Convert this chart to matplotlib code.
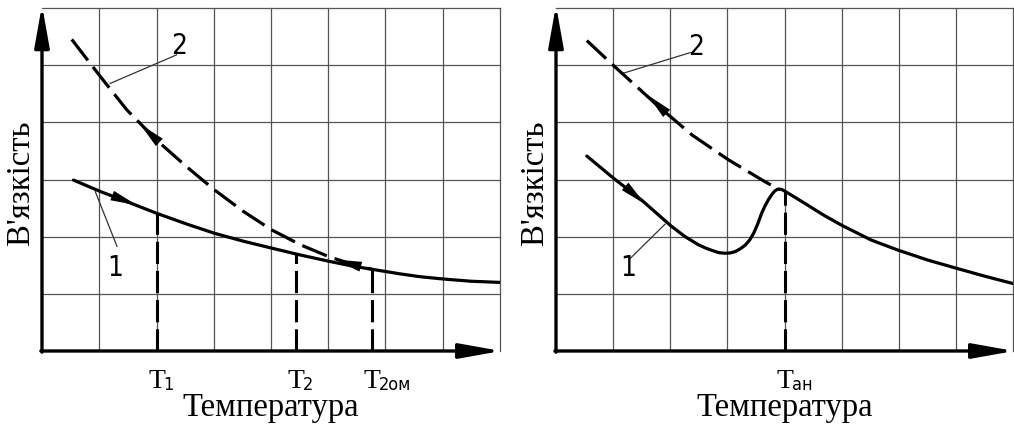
import matplotlib
matplotlib.use("Agg")
import matplotlib.pyplot as plt

plt.rcParams['lines.scale_dashes'] = False

# ---------------- data (grid-cell units) ----------------
# Left panel
L_c1_x = [0.55, 1.02, 1.54, 2.00, 2.53, 3.01, 3.52, 4.01, 4.51, 5.01, 5.40, 5.76, 6.25, 6.60, 7.00, 7.50, 8.00]
L_c1_y = [2.99, 2.79, 2.59, 2.41, 2.22, 2.06, 1.92, 1.80, 1.68, 1.57, 1.49, 1.43, 1.35, 1.30, 1.26, 1.22, 1.20]
L_c2_x = [0.52, 1.02, 1.48, 2.00, 2.53, 3.01, 3.52, 4.01, 4.51, 5.01, 5.44, 5.76]
L_c2_y = [5.45, 4.80, 4.22, 3.69, 3.22, 2.82, 2.44, 2.12, 1.86, 1.65, 1.51, 1.43]
L_marks_x = [2.00, 4.43, 5.76]
L_marks_top = [2.41, 1.69, 1.43]
L_mark_subs = ['1', '2', '2ом']

# Right panel
R_c1_x = [0.54, 1.01, 1.50, 2.01, 2.26, 2.49, 2.62, 2.73, 2.85, 2.96, 3.05, 3.14, 3.23, 3.31, 3.39,
          3.46, 3.53, 3.60, 3.66, 3.72, 3.78, 3.83, 3.88, 3.94, 4.00, 4.18, 4.36, 4.68,
          5.00, 5.52, 6.00, 6.51, 7.00, 7.50, 8.00]
R_c1_y = [3.41, 3.02, 2.64, 2.19, 2.00, 1.86, 1.80, 1.76, 1.72, 1.71, 1.715, 1.74, 1.79, 1.85, 1.94,
          2.06, 2.22, 2.41, 2.54, 2.65, 2.74, 2.80, 2.83, 2.83, 2.80, 2.69, 2.58, 2.38,
          2.20, 1.94, 1.76, 1.59, 1.45, 1.31, 1.18]
R_c2_x = [0.54, 1.01, 1.77, 2.38, 3.01, 3.66, 3.92]
R_c2_y = [5.43, 4.99, 4.30, 3.78, 3.35, 2.96, 2.82]
R_marks_x = [4.00]
R_marks_top = [2.80]
R_mark_subs = ['ан']

x_title = 'Температура'
y_title = "В'язкість"

# ---------------- figure ----------------
fig = plt.figure(figsize=(10.14, 4.29), dpi=100)
axL = fig.add_axes([42/1014, 78/429, 458/1014, 343/429])
axR = fig.add_axes([556/1014, 78/429, 457/1014, 343/429])

SERIF = 'Liberation Serif'

def base(ax):
    ax.set_xlim(0, 8)
    ax.set_ylim(0, 6)
    for s in ax.spines.values():
        s.set_visible(False)
    ax.set_xticks([])
    ax.set_yticks([])
    for i in range(1, 9):
        ax.plot([i, i], [0, 6], color='#555555', lw=0.9, clip_on=False, zorder=1)
    for j in range(1, 7):
        ax.plot([0, 8], [j, j], color='#555555', lw=0.9, clip_on=False, zorder=1)
    ax.annotate('', xy=(0, 6.05), xytext=(0, -0.02),
                arrowprops=dict(arrowstyle='-|>,head_length=1.4,head_width=0.25',
                                lw=2.4, color='black', mutation_scale=18, shrinkA=0, shrinkB=0),
                annotation_clip=False, zorder=4)
    ax.annotate('', xy=(8.02, 0), xytext=(-0.02, 0),
                arrowprops=dict(arrowstyle='-|>,head_length=1.4,head_width=0.25',
                                lw=2.4, color='black', mutation_scale=18, shrinkA=0, shrinkB=0),
                annotation_clip=False, zorder=4)
    ax.text(0.5, -0.190, x_title, transform=ax.transAxes, ha='center', va='baseline',
            fontsize=23.5, family=SERIF)
    ax.text(-0.046, 0.49, y_title, transform=ax.transAxes, ha='center', va='center',
            rotation=90, fontsize=23.5, family=SERIF)

def arrow_on(ax, tip, tail):
    ax.annotate('', xy=tip, xytext=tail,
                arrowprops=dict(arrowstyle='-|>,head_length=1.6,head_width=0.3',
                                lw=0, color='black', mutation_scale=12, shrinkA=0, shrinkB=0),
                zorder=5)

def marks(ax, xs, tops, subs):
    tr = ax.get_xaxis_transform()
    for x, t, sub in zip(xs, tops, subs):
        ax.plot([x, x], [0, t], color='black', lw=2.2, dashes=(16, 5), zorder=3)
        ax.text(x, -0.108, 'T', transform=tr, ha='center', va='baseline',
                fontsize=20, family=SERIF)
        ax.annotate(sub, xy=(x, -0.108), xycoords=tr, xytext=(5.2, -1.5),
                    textcoords='offset points', ha='left', va='baseline',
                    fontsize=13, family='DejaVu Sans', fontstretch='condensed',
                    annotation_clip=False)

def leader(ax, p0, p1, txt, tpos):
    ax.plot([p0[0], p1[0]], [p0[1], p1[1]], color='#333333', lw=0.9, zorder=3)
    ax.text(tpos[0], tpos[1], txt, ha='center', va='center', fontsize=20,
            family='DejaVu Sans', fontweight='light', fontstretch='condensed')

# Left
base(axL)
axL.plot(L_c1_x, L_c1_y, color='black', lw=2.3, solid_capstyle='round',
         solid_joinstyle='round', zorder=4)
axL.plot(L_c2_x, L_c2_y, color='black', lw=2.3, dashes=(19, 6), zorder=4)
marks(axL, L_marks_x, L_marks_top, L_mark_subs)
arrow_on(axL, (1.66, 2.55), (1.30, 2.69))
arrow_on(axL, (1.71, 3.97), (2.06, 3.64))
arrow_on(axL, (5.12, 1.60), (5.55, 1.48))
leader(axL, (1.19, 4.68), (2.35, 5.18), '2', (2.40, 5.33))
leader(axL, (0.93, 2.79), (1.31, 1.83), '1', (1.28, 1.46))

# Right
base(axR)
axR.plot(R_c1_x, R_c1_y, color='black', lw=2.3, solid_capstyle='round',
         solid_joinstyle='round', zorder=4)
axR.plot(R_c2_x, R_c2_y, color='black', lw=2.3, dashes=(19, 6), zorder=4)
marks(axR, R_marks_x, R_marks_top, R_mark_subs)
arrow_on(axR, (1.56, 2.57), (1.30, 2.80))
arrow_on(axR, (1.60, 4.48), (1.85, 4.24))
leader(axR, (1.18, 4.86), (2.35, 5.22), '2', (2.46, 5.32))
leader(axR, (1.91, 2.22), (1.30, 1.62), '1', (1.27, 1.46))

fig.savefig('out.png', dpi=100)
